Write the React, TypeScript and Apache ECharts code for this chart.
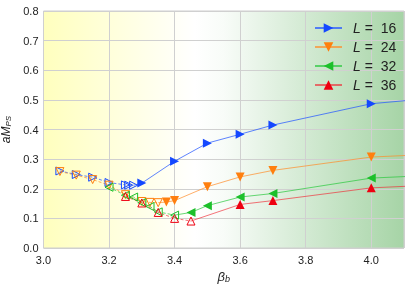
import React, { useEffect, useRef } from "react";
import * as echarts from "echarts";

const xTicks = [3.0, 3.2, 3.4, 3.6, 3.8, 4.0];
const yTicks = [0, 0.1, 0.2, 0.3, 0.4, 0.5, 0.6, 0.7, 0.8];

const sizes = ["16", "24", "32", "36"];

const hollowBeta16 = [3.05, 3.1, 3.15, 3.2, 3.25, 3.26, 3.275];
const hollowVal16 = [0.26, 0.248, 0.239, 0.221, 0.213, 0.212, 0.212];
const filledBeta16 = [3.3, 3.4, 3.5, 3.6, 3.7, 4.0, 4.2];
const filledVal16 = [0.219, 0.293, 0.354, 0.384, 0.415, 0.487, 0.507];

const hollowBeta24 = [3.05, 3.1, 3.15, 3.2, 3.25, 3.3, 3.325, 3.35];
const hollowVal24 = [0.258, 0.246, 0.231, 0.212, 0.18, 0.157, 0.154, 0.153];
const filledBeta24 = [3.375, 3.4, 3.5, 3.6, 3.7, 4.0, 4.2];
const filledVal24 = [0.155, 0.16, 0.207, 0.24, 0.262, 0.307, 0.317];

const hollowBeta32 = [3.2, 3.25, 3.275, 3.3, 3.325, 3.35, 3.4];
const hollowVal32 = [0.205, 0.178, 0.172, 0.153, 0.14, 0.122, 0.111];
const filledBeta32 = [3.45, 3.5, 3.6, 3.7, 4.0, 4.2];
const filledVal32 = [0.12, 0.143, 0.172, 0.184, 0.236, 0.246];

const hollowBeta36 = [3.25, 3.3, 3.35, 3.4, 3.45];
const hollowVal36 = [0.174, 0.152, 0.12, 0.1, 0.091];
const filledBeta36 = [3.6, 3.7, 4.0, 4.2];
const filledVal36 = [0.147, 0.16, 0.203, 0.213];

const groups = [
  { L: sizes[0], hb: hollowBeta16, hv: hollowVal16, fb: filledBeta16, fv: filledVal16, color: "#1448ff", line: "rgba(40,90,255,0.75)", rot: -90 },
  { L: sizes[1], hb: hollowBeta24, hv: hollowVal24, fb: filledBeta24, fv: filledVal24, color: "#ff7f0e", line: "rgba(255,140,40,0.7)", rot: 180 },
  { L: sizes[2], hb: hollowBeta32, hv: hollowVal32, fb: filledBeta32, fv: filledVal32, color: "#1cc02a", line: "rgba(40,200,60,0.7)", rot: 90 },
  { L: sizes[3], hb: hollowBeta36, hv: hollowVal36, fb: filledBeta36, fv: filledVal36, color: "#ee0010", line: "rgba(240,40,50,0.65)", rot: 0 },
];

export default function App() {
  const ref = useRef<HTMLDivElement>(null);
  useEffect(() => {
    if (!ref.current) return;
    const chart = echarts.init(ref.current, undefined, { renderer: "svg" });
    const series: any[] = [];
    groups.forEach((g) => {
      series.push({
        type: "line",
        name: "h" + g.L,
        data: g.hb.map((b, i) => [b, g.hv[i]]),
        symbol: "triangle",
        symbolSize: 8,
        symbolRotate: g.rot,
        itemStyle: { color: "rgba(255,255,255,0)", borderColor: g.color, borderWidth: 1 },
        lineStyle: { color: g.line, width: 1, type: [3, 2] },
        z: 2,
      });
      const last = g.hb.length - 1;
      series.push({
        type: "line",
        name: "L = " + g.L,
        data: [
          { value: [g.hb[last], g.hv[last]], symbol: "none" },
          ...g.fb.map((b, i) => [b, g.fv[i]]),
        ],
        symbol: "triangle",
        symbolSize: 9,
        symbolRotate: g.rot,
        itemStyle: { color: g.color },
        lineStyle: { color: g.line, width: 1 },
        clip: true,
        z: 3,
      });
    });
    chart.setOption({
      animation: false,
      textStyle: { fontFamily: "Liberation Sans, Arial, sans-serif" },
      grid: {
        left: 43.5,
        right: 7,
        top: 11,
        bottom: 40,
        outerBoundsMode: "none",
        containLabel: false,
        show: true,
        borderColor: "#cfcfcf",
        borderWidth: 1,
        backgroundColor: new echarts.graphic.LinearGradient(0, 0, 1, 0, [
          { offset: 0, color: "#ffffbe" },
          { offset: 0.42, color: "#ffffff" },
          { offset: 0.5, color: "#f8fcf8" },
          { offset: 1, color: "#a6d4a6" },
        ]),
      },
      legend: {
        orient: "vertical",
        left: 309,
        top: 16,
        itemWidth: 27,
        itemHeight: 12,
        itemGap: 5,
        data: sizes.map((s) => "L = " + s),
        formatter: (name: string) => "{i|L} =  " + name.replace("L = ", ""),
        textStyle: {
          fontSize: 14,
          color: "#222",
          padding: [0, 0, 0, 6],
          rich: { i: { fontStyle: "italic", fontSize: 14, color: "#222" } },
        },
      },
      xAxis: {
        type: "value",
        min: 3.0,
        max: 4.1,
        interval: 0.2,
        name: "{b|β}{s|b}",
        nameLocation: "middle",
        nameGap: 19,
        nameTextStyle: {
          rich: {
            b: { fontStyle: "italic", fontSize: 13, color: "#222" },
            s: { fontStyle: "italic", fontSize: 9, color: "#222", padding: [6, 0, 0, 0] },
          },
        },
        axisLine: { show: false },
        axisTick: { show: false },
        splitLine: { show: true, lineStyle: { color: "#d0d0d0", width: 1 } },
        axisLabel: {
          showMaxLabel: false,
          fontSize: 11,
          color: "#222",
          margin: 6,
          formatter: (v: number) => (xTicks.some((t) => Math.abs(t - v) < 1e-6) ? v.toFixed(1) : ""),
        },
      },
      yAxis: {
        type: "value",
        min: yTicks[0],
        max: yTicks[yTicks.length - 1],
        interval: 0.1,
        name: "{a|aM}{s|PS}",
        nameLocation: "middle",
        nameGap: 22,
        nameTextStyle: {
          rich: {
            a: { fontStyle: "italic", fontSize: 12, color: "#222" },
            s: { fontStyle: "italic", fontSize: 8, color: "#222", padding: [5, 0, 0, 0] },
          },
        },
        axisLine: { show: false },
        axisTick: { show: false },
        splitLine: { show: true, lineStyle: { color: "#d0d0d0", width: 1 } },
        axisLabel: {
          fontSize: 11,
          color: "#222",
          margin: 5,
          formatter: (v: number) => v.toFixed(1),
        },
      },
      series,
    });
    return () => chart.dispose();
  }, []);
  return <div ref={ref} style={{ position: "fixed", left: 0, top: 0, width: 411, height: 288 }} />;
}
